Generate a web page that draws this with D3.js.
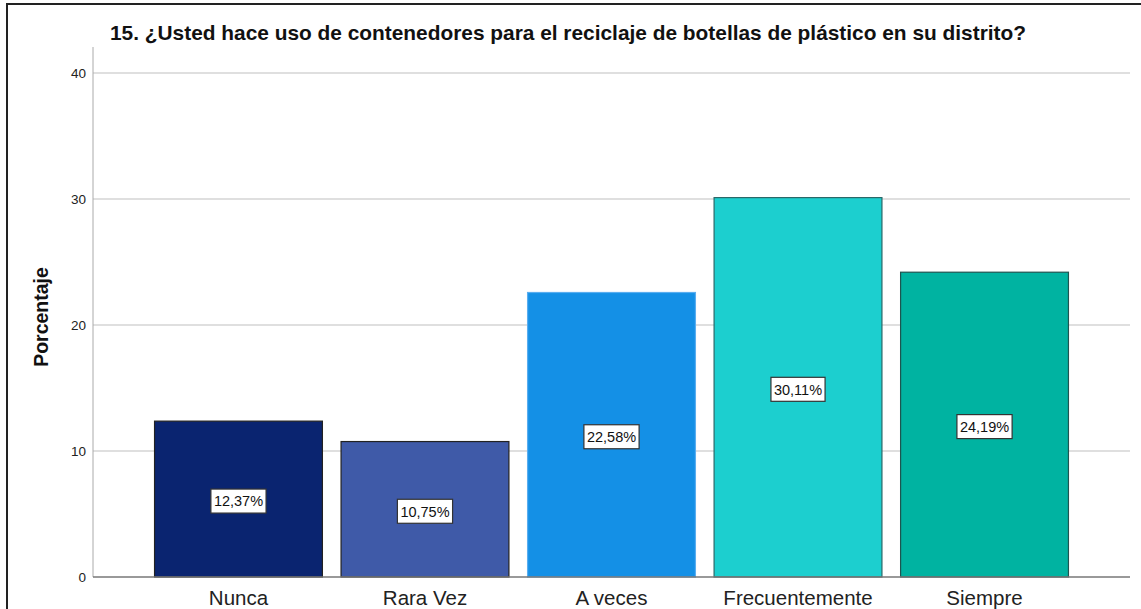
<!DOCTYPE html>
<html><head><meta charset="utf-8">
<script src="https://cdn.jsdelivr.net/npm/d3@7"></script>
<style>body{margin:0;background:#fff}svg{display:block}</style>
</head><body>
<svg id="c" width="1141" height="609"></svg>
<script>
const categories = ["Nunca", "Rara Vez", "A veces", "Frecuentemente", "Siempre"];
const values = [12.37, 10.75, 22.58, 30.11, 24.19];
const labels = ["12,37%", "10,75%", "22,58%", "30,11%", "24,19%"];
const colors = ["#0a2470", "#3f5aa8", "#1490e6", "#1ccfcf", "#00b3a1"];
const strokes = ["#222", "#222", "#5aaef0", "#2a6868", "#1d5550"];
const yTicks = [0, 10, 20, 30, 40];
const title = "15. ¿Usted hace uso de contenedores para el reciclaje de botellas de plástico en su distrito?";
const yTitle = "Porcentaje";

const svg = d3.select("#c");
const font = "Arial, 'Liberation Sans', sans-serif";

// outer frame
svg.append("line").attr("x1", 7).attr("x2", 7).attr("y1", 3).attr("y2", 609).attr("stroke", "#222").attr("stroke-width", 2);
svg.append("line").attr("x1", 6).attr("x2", 1141).attr("y1", 4).attr("y2", 4).attr("stroke", "#222").attr("stroke-width", 2);

const x = d3.scaleBand().domain(categories).range([93, 1130]).paddingInner(0.1).paddingOuter(0.33);
const y = d3.scaleLinear().domain([0, 40]).range([577, 73]);

// gridlines
svg.append("g").selectAll("line").data(yTicks.filter(d => d > 0)).join("line")
  .attr("x1", 93).attr("x2", 1130).attr("y1", d => y(d)).attr("y2", d => y(d))
  .attr("stroke", "#d4d4d4").attr("stroke-width", 1.5);

// y axis
const yAxis = svg.append("g").attr("transform", "translate(93,0)")
  .call(d3.axisLeft(y).tickValues(yTicks).tickSize(0).tickPadding(7));
yAxis.select(".domain").remove();
yAxis.selectAll("text").attr("font-family", font).attr("font-size", 13.5).attr("fill", "#222");
svg.append("line").attr("x1", 93).attr("x2", 93).attr("y1", 47).attr("y2", 577).attr("stroke", "#aaa").attr("stroke-width", 1);

// bars
svg.append("g").selectAll("rect").data(values).join("rect")
  .attr("x", (d, i) => x(categories[i])).attr("width", x.bandwidth())
  .attr("y", d => y(d)).attr("height", d => y(0) - y(d))
  .attr("fill", (d, i) => colors[i]).attr("stroke", (d, i) => strokes[i]).attr("stroke-width", 1.2);

// x axis
svg.append("line").attr("x1", 93).attr("x2", 1130).attr("y1", 577).attr("y2", 577).attr("stroke", "#777").attr("stroke-width", 1.5);
const xAxis = svg.append("g").attr("transform", "translate(0,577)")
  .call(d3.axisBottom(x).tickSize(0));
xAxis.select(".domain").remove();
xAxis.selectAll("text").attr("font-family", font).attr("font-size", 20.5).attr("fill", "#222")
  .attr("y", 28).attr("dy", "0");

// value labels
const lg = svg.append("g").selectAll("g").data(values).join("g")
  .attr("transform", (d, i) => `translate(${x(categories[i]) + x.bandwidth() / 2},${y(d / 2) + 2})`);
const lt = lg.append("text").text((d, i) => labels[i]).attr("text-anchor", "middle").attr("dy", "0.36em")
  .attr("font-family", font).attr("font-size", 14.5).attr("fill", "#111");
lt.each(function () {
  const w = this.getComputedTextLength() + 6;
  d3.select(this.parentNode).insert("rect", "text").attr("x", -w / 2).attr("y", -12).attr("width", w).attr("height", 24)
    .attr("fill", "#fff").attr("stroke", "#333").attr("stroke-width", 1.2);
});

// titles
svg.append("text").attr("x", 110).attr("y", 40).text(title)
  .attr("textLength", 916).attr("lengthAdjust", "spacingAndGlyphs")
  .attr("font-family", font).attr("font-size", 20.5).attr("font-weight", "bold").attr("fill", "#111");
svg.append("text").attr("transform", "translate(48,317) rotate(-90)").attr("text-anchor", "middle").text(yTitle)
  .attr("font-family", font).attr("font-size", 19.5).attr("font-weight", "bold").attr("fill", "#111");
</script>
</body></html>
